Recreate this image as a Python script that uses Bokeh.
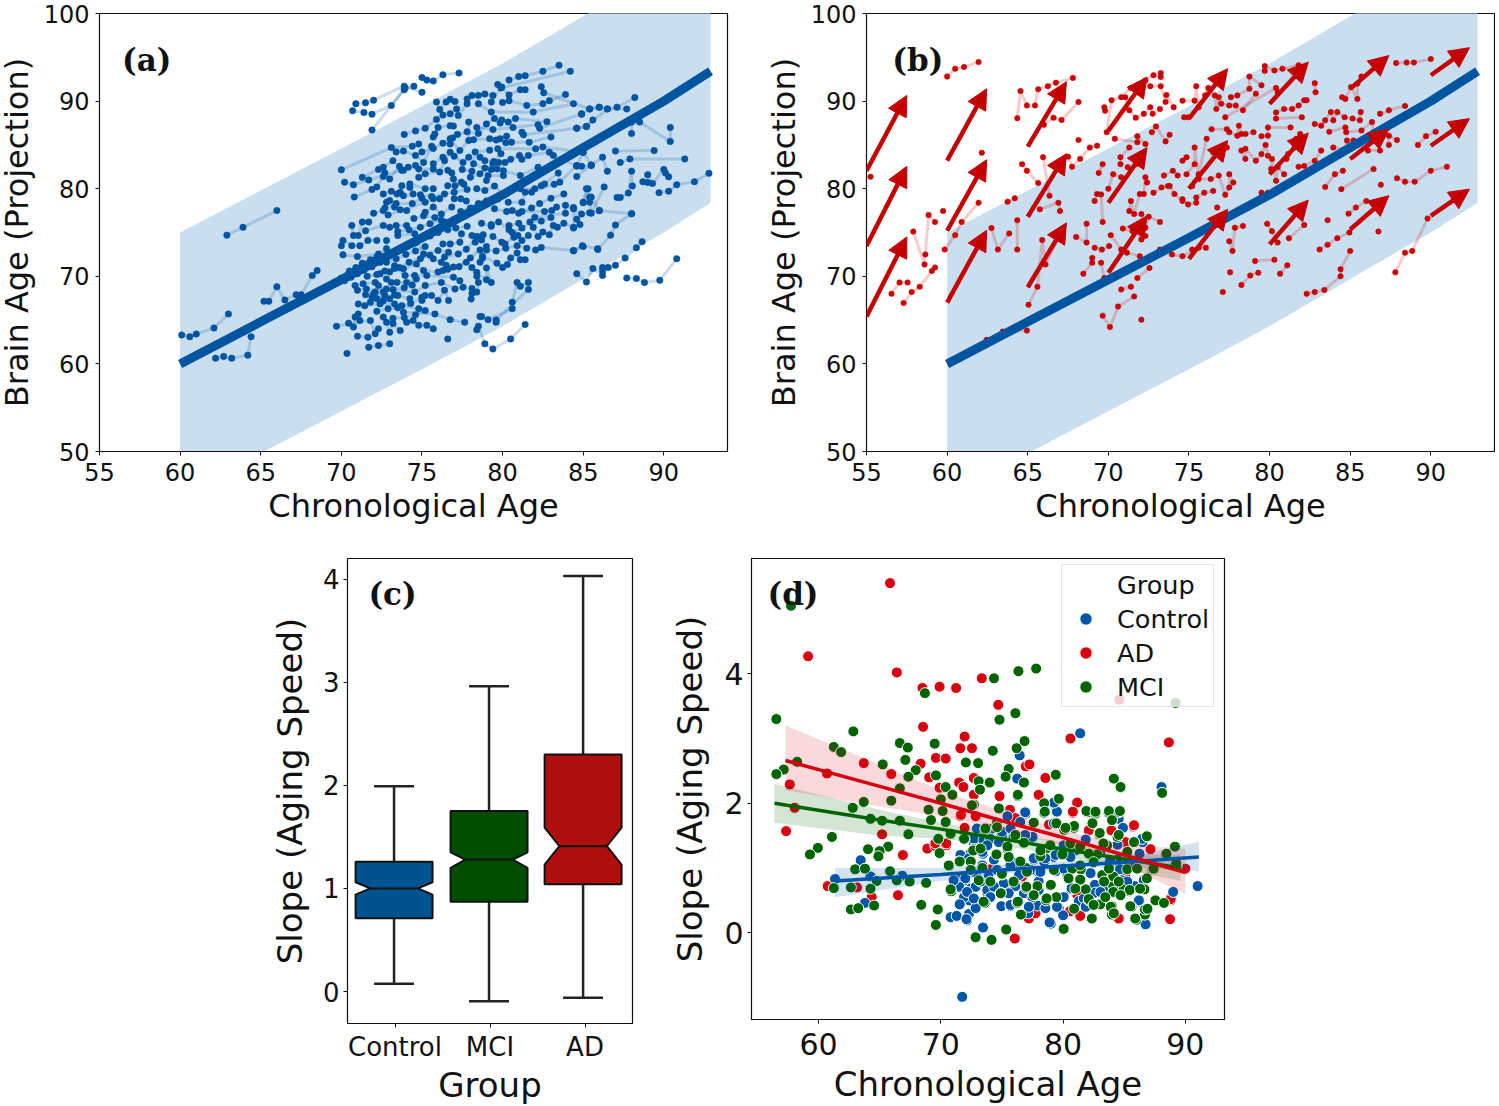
from bokeh.plotting import figure
from bokeh.layouts import column, row
from bokeh.models import Range1d, Label, Arrow, NormalHead, ColumnDataSource, Legend, LegendItem
from bokeh.embed import file_html
from bokeh.resources import INLINE

# ---- data ----
trend_age = [60, 65, 70, 75, 80, 85, 90, 92.9]
trend_brain = [60, 64.8, 69.6, 74.4, 79.3, 84.7, 90, 93.4]
band_half = 15

# panel (a): control trajectories, flat age, brain pairs
a_tracks = [
[60.1,63.3,60.6,63.1,61,63.4,62.1,64.1,63,65.7],
[62.2,60.65,62.7,60.85,63.2,60.65,64.2,61,64.4,63.1],
[62.9,74.7,63.9,75.6,66,77.5],
[65.2,67.15,65.5,67.15,66,68.8,66.5,67.3,67.2,67.9,67.5,67.9,68.2,70.1,68.5,70.65],
[70.7,88.9,71.4,88.7,71.9,88.5,73.1,89.5,73.9,91.3,74.5,91.7],
[70.9,89.7,71.5,89.8,72,90.1,73.9,91.7,75,91],
[71.9,86.7,73.95,91.5],
[75,92.7,75.3,92.4,75.7,92.3,76.3,93,77.3,93.2],
[80.4,92.4,81,92.8,81.4,92.9,82.5,93.4,83.5,94.1],
[79.7,91.9,79.9,91.5,84.2,93.4],
[70,82.15,73.1,84.7,74.4,84.85,74.8,85.1],
[70.2,80.75,70.75,80.45,71.7,81,73.75,82.1],
[70.8,79.05,71.9,79.9,72.2,80.2,72.6,81.4],
[71.3,81.3,72.3,82.2,72.6,82.45,73.2,83.2],
[72.7,81.8,73,81.1,73.6,82.55,73.85,82.1,74.15,82.45],
[73.4,84.2,73.85,84.3,74.6,83.8,75.1,83,75.6,84.85],
[74.6,82.65,74.8,82.25,75.7,82.85,75.7,82.25,76.3,83.6],
[74.8,81.3,75.2,81.7,76.1,81.9,76.4,83.2,76.75,84.15],
[75.7,85.9,75.8,86.25,76,87,76.75,87.2,76.95,87.15],
[75.9,89.9,76.1,89.05,76.5,89.9,76.75,90.2,77.05,89.95],
[76.75,88.55,77.15,89.1,77.25,88.35,77.8,90.25,77.8,89.7],
[76.75,85.7,76.75,85.1,77.35,84.35,77.9,85.5,77.9,87.6],
[77,83.7,77.55,83,77.9,83.6],
[76.6,82.1,76.85,81.8,76.95,81.1,77.45,80.75],
[74.25,80.55,74.25,80.15,73.75,80.35,75.2,80,75.7,80],
[72.6,79.4,73.1,79.7,73.65,79.6,73.45,79.4,73.85,79.2,74.45,79.4],
[72.7,77.8,72.8,78.45,73,78.65,73.3,77.9,73.65,77.6,74.05,77.5],
[72.9,77,75.2,78.45,75.7,78.85,76.1,78.85],
[75.2,77.3,75.7,77.9,76.85,77.9,76.2,77.1],
[76.6,80.35,77.05,80.35,77.6,80.5],
[77,78.85,77.4,78.85,77.75,78.6],
[70.65,75.8,70.75,74.65,71.05,74.65,71.3,76.2,71.7,76.2],
[70.1,74.1,70,73.5,70.65,73.5,71.15,73.5,71.65,74.1,72.2,74.1],
[70.1,72.45,71,72.25,72.3,72.55,72.8,73.15,72.8,74.1],
[71.5,75.2,72.6,75.8,73,75.6,73.4,75.8,74.05,75.8],
[73.5,74.65,74.55,74.85,75.1,72.55,76,72.95,76.65,72.75],
[76.3,73.7,76.75,73.7,77.35,73.9,77.45,74.85],
[76.4,72.2,77.25,72.55,77.75,73.1,78.5,74.5],
[75.7,72,76.2,71.6,76.5,71.25,76.95,71.05,77.75,71.6],
[73.85,70.85,74.65,71.4,75.1,70.65,76,70.5,76.3,70.65],
[73.3,71.2,73.95,70.1,74.55,70.1,75.3,70.1,76.95,69.9,77.35,69.5],
[72.4,70.3,72.8,69.7,73.1,69.3,73.45,69.3,74.05,69.3,74.65,69.7],
[70.85,68.95,71.35,69.15,72.1,69.3,72.3,68.95,72.8,68.55],
[71,68.4,71.55,68.55,74.55,68.2,75.2,68.95,76.2,69.3,77.05,68.55,77.55,68.75],
[75.6,67.8,75.2,67.8,75,67.25,76.4,68.4,76,67.25,76.65,67.25],
[74.25,67.45,73.5,67.8,73,67.45,72.7,67.8,72.2,67.45,71.9,67.6,71.8,67.05],
[71.05,66.85,71.45,66.65,72.4,66.85,73.3,66.85,73.75,66.65,74.8,66.3],
[73.85,65.9,75.8,65.7,76.75,65.05,77.65,64.75],
[71.05,65.7,70.85,65.35,71.15,64.95,70.45,64.65,70.75,64.2],
[69.7,64.3,71.8,64.95,72.3,64,72.1,63.45],
[72.6,65.35,72.8,64.75,73.2,64.6,73.65,63.8,73,63.6],
[74.05,64.75,74.45,64.95,74.8,64.4,75.3,64.4,75.7,64],
[71,63.15,71.65,63.05],[71.7,61.9,72.3,62.1,73,62.3],[70.35,61.2],[76.6,62.85],
[78.1,90.65,78.5,90.65,78.9,90.8,79.4,90.65],
[79.3,89.9,79.95,91.6,80.4,90.7,81.1,91.3,81.4,91.3],
[80,89.85,80.4,90.05,81.5,89.5,82.5,89.7,82.9,90.05,83.9,90.75],
[78.5,89.7,79.3,88.75,81.9,88.75,84.4,89.7],
[82.4,91.65,82.55,90.95,85.4,89.1,86,89.3],
[79.85,87.5,79.95,87.85,80.35,87.6,80.8,88,82.75,87.65],
[78.4,87,79.4,86.75,80.65,87,82.2,87.3,82.3,86.9,84.9,88.55],
[81.2,86.45,81.3,86.15,84.6,86.9,85.2,87.1,85.6,87.85],
[78.2,85.6,79.2,85.7,79.6,85.55,79.85,85.7,80.25,86],
[80.2,85.25,80.55,85.3,81.65,85.3,83,85.9],
[79.7,84.55,82.05,84.55,82.5,84.75,85,84.15],
[78.6,83.6,78.9,83.2,79.45,83.1,79.75,83,80.15,83],
[78.2,82.85,78.9,82.35,79.3,82.2,79.65,82.25,80.5,83.35,81.05,83.8],
[81.2,83.35,81.6,83.8,82.9,84.15,83.15,83.8,84.6,82.6],
[80.05,82.05,80.05,81.5,79.1,81.5,79,80.95,81.1,81.5,82.2,82.45],
[82.6,80.55,83.45,81.8,83.55,80.75,84.6,82.65,84.9,82.55,85.5,82.65],
[84.6,81.4,85.5,82.7,86.2,83.6,86.5,82],
[79.5,80.3,78.4,80,78.9,79.8,80.05,79.4,81.1,80,82,80,82.4,80.35],
[80.35,78.45,81.2,78.45,81.4,79.6,81.8,79.6,83.2,80.5],
[85.2,80,85.5,79.05,85,78.45,85.4,78.45,86,77.5,88,77.15],
[79.5,77.7,80.25,77.4,80.6,77.5,81.2,77.4,82.6,77.4,83.05,77.5,83.35,77.9],
[82,76.75,83.9,78.1,84.4,77.7,83.9,77.2,84.9,77.1,85.4,77.25,86,77.5],
[78.7,76.05,79.3,75.9,79.3,75.7,79.75,76.2,80.4,75.8,80.4,75.3,81,76.05],
[78.1,74.65,78.4,74.55,78.8,74.75,78.7,74.15,78.3,73.9],
[79.4,74.55,79.95,73.9,80.15,73.7,80.7,74.45,80.95,74.65,81.2,74.1,81.6,74.65],
[81.9,75.6,82.2,74.55,82.5,75.05,82.9,74.75,83.15,75.8,83.4,75.6,83.8,76.05,84.4,75.6,84.8,75.9],
[82.05,73,82.4,73.3,84.4,72.95,84.95,73.5,85.9,73.15],
[80.5,72.1,80.9,72.65,81.1,71.9,81.4,71.9],
[78.75,72.3,78.75,72.05,78.6,71.6,79.65,71.5,80,71,80.3,71.35],
[78.1,71,78.4,70.45,78.4,70,79,70.95,79,69.6,79.3,69.3],
[78.5,69.3,78.1,68.6,78.1,68.05,78.4,68.2,78.05,67.4],
[78.6,65.4,78.7,65.4,79.1,65.05,80.6,66.3,80.6,67.05,80.9,69.3,81.1,68.85,81.6,69.3],
[79.6,65,79.6,64.75,81.6,68.5],
[78.5,64.3,78.4,63.9,78.9,62.3,79.4,61.7,80.5,62.85,81.4,64.5],
[84.6,86.9,85.2,87.1,86.5,89.1,87.1,89.3,88.2,90.4],
[84.9,88.5,85.4,89.1,86,89.3,86.5,89.1,87.7,89.1],
[88,87.6,88.5,87.6,88,86.3,90.4,87,90.4,85.4],
[87,84.3,89.4,84.35],[87.9,83.4,87.3,83,91.3,83.4],
[90,82.2,90.1,81.8,90.3,81.35,89,81.6,88.7,80.8,89,80.7,89.3,80.6],
[89.7,79.55,90.3,79.7,90.8,80.45,91.9,80.8,92.8,81.75],
[88,82,88.05,80.3,87.8,79.5,87.1,79,87.3,79],
[85.3,80,85.4,79,85,78.4,85.5,77.2,86.3,80.2],
[85.9,73.05,86.7,74.7,87,75.85,88,77.15],[84.4,72.9,85,73.4],
[84.6,70.3,85.2,69.35,85.6,70.9,86.2,71,86.2,70.6,86.2,70.1],
[86.55,71,87,71.25,87.6,72.1,88.3,73.25,88.65,73.95],
[87.7,69.8,88.3,69.75,88.8,69.3,89.75,69.55,90.8,72],
[84.4,75.5,84.6,76.5,84.4,77.85],
[84.6,82.6,85,84.15,85.5,82.7],
[70,69.8,70.4,70.2,70.8,70.6,71.2,71,71.6,71.4,72,71.8],
[70.2,69.5,70.6,69.9,71,70.3,71.4,70.7,71.9,71.1,72.4,71.6],
[70.5,70.6,70.9,71,71.3,71.5,71.8,71.9,72.2,72.2],
[72.5,72,73,72.4,73.5,72.9,74,73.4,74.6,73.8],
[72.8,71.6,73.4,72,74,72.5,74.6,72.9,75.2,73.4],
[73,70.5,73.6,71,74.2,71.6,74.9,72,75.5,72.4],
[71.6,70,72.2,70.2,72.7,70.6,73.3,70.9],
[72,68,72.6,68.2,73.2,68.5,73.9,68.7,74.4,69],
[72.2,66,72.9,66.3,73.5,66.4,74.3,66.9,75,67.6],
[73.2,65.2,73.9,65.3,74.6,65.6,75.2,66.1],
[71.5,67.9,72.1,68.2,72.6,67.2,73.3,67.9],
[73.5,75.1,74.2,75.3,74.9,75.6,75.5,76,76.2,76.4],
[72,77.2,72.6,77.5,73.4,78.3,74.4,78.3,75,78.9],
[74.5,76.6,75.1,76.9,75.8,76.7,76.4,76.2,77,76.5,77.7,76.9],
[75.5,74.6,76,75,76.6,75.3,77.1,75.5,77.8,75.7],
[77.4,77.4,78,77.8,78.5,78.3,79,78.6,79.7,78.8],
[74.9,79.3,75.6,79.1,76.4,79.4,77,79.6,77.8,79.9],
[78,81.3,78.6,81.7,79.4,82.9,79.9,84],
[77.5,82.2,78.1,82,78.3,84.2,79.2,84.4],
[73.9,86.2,74.6,86.6,75.2,86.9,75.9,87.9,76.3,88.4],
[75,84.2,75.7,84.6,76.3,85.2,76.9,85.8],
[77.2,86.2,77.8,86.5,78.5,86.3,79,87.4,79.5,88],
[81,77.2,81.8,77.8,82.3,78.3,83,78.9,83.8,79.4],
[79,73,79.6,72.9,80.2,73.2,80.9,73.5,81.5,73.2],
[80.6,75,81.2,75.5,81.7,76.2,82.4,76.3,83,76.7],
[76.6,70.8,77.3,71.1,78,72.1,78.6,73,79,73.4],
]

# panel (b): AD trajectories, flat age, brain pairs
b_tracks = [
[55.25,81.35],[60,92.8,60.5,93.7,61.05,93.9,61.95,94.45],
[56.55,68,57.05,69.3,57.55,69.3],
[57.3,66.95,57.8,68.2,58.3,68.8,59.05,70.6,59.25,71],
[58.6,71.35,58.65,72.5,59.25,76.2,58.85,77,57.9,75.1],
[59.75,77.45],[59.85,73.05,60.5,74.7,60.9,76.2,61.95,78.4],[62.15,84.1],
[62.75,75.5,63.15,73.05,63.85,74.9],[63.75,78.5,64.2,78.9],[64.35,76.4,64.35,73.05],
[62.45,62.75,62.95,62.95,63.45,63.7,64.95,63.8],
[64.55,91.15,64.95,89.5,64.35,88.05],[65.45,89.5,65.65,91.35,66.25,91.7,66.75,92.1,67.8,92.65],
[66,87.3,66.6,88.1,67.1,87.85,68.15,89.9],
[64.65,82.8,64.95,82.05,65.65,80.65],[65.95,83.6,66.35,79.2],[66.9,78.4,67,77.45,65.75,77.65],
[65.05,66.75,65.6,68.8,66.1,71.35,65.9,74.15,67.15,75.35],
[67.5,83.65,67.75,82.5,68.25,83.4,68.85,84.7,69.3,84.9],[68.15,85.55],
[68,74.5,68.65,76,68.65,73.85],[68.45,70.3,69,72.1,69,71.55],
[69.15,73.25,69.6,73.05,70.05,73.45],[69.55,71.55,69.75,69.8],
[69.65,65.5,70.1,64.2,70.6,66.55,71.6,67.7],[71.4,68.8,70.8,68.5],[72.05,65.05],
[69.15,78.6,69.3,79.4,69.55,79.35,69.65,76.2],
[69.4,81.8,69.65,82.8],[69.75,89.3,69.8,88.9],[69.9,86.45,70.2,90.1,70.8,90.45,71.4,91.5,71.8,91.4],
[70.4,85.7,71.8,86,71.8,85.3,72.3,85.1],[72.3,92.35,72.8,92.95,73.25,93.2,73.25,92.75],
[72.6,91.7,73.25,91.7,73.6,90.7,73.55,89.9,74.05,89.3],
[73.2,89.1,72.6,89.3,72.75,88.55,72.2,88.55,71.7,88.1,71.3,88.95,71.05,90.45],
[72.95,87.1,72.7,86.45,73.8,86.15,73.55,85.4],
[71.3,84.7,70.75,83.6,70.75,82.8],[71.95,83.6,71.7,82.8,71.2,82.45],
[70.3,81.65,70,80,70.8,81.3],[72.3,81.3,72.4,80.7,72.2,79.4],
[72.8,79.55,73.3,80.15,73.7,80.3],[73.45,81.5,74,82.05,74.3,81.5],
[73.8,80.3,74.1,79.4,74.6,78.6],[71.95,79.4,71.4,78.6,71.3,77.45,71.6,77.1],
[72.05,77.1,72.5,76.8,73.2,76.2,72.3,75.55],
[70.9,75.45,71.5,75.15,71.8,75.15,72.3,74.6,72.05,74.2],
[70.15,74.7,70.8,73.05,71.15,72.7,71.95,72.3],
[72.55,70.95,71.8,69.8],[73.95,72.5,73.2,73.05,74.6,72.3,75.6,73.25,76.05,73.25],[75.2,73.05],
[74.7,88.15,74.95,88.15],[74.6,90.05,75.35,90.05,75.6,89.3,75.45,91.7],
[76,90.65,76.2,91.5,76.6,90.65,76.85,90.45,77,89.7,77.5,89.5,76.7,89.1,77.9,89.5],
[77.6,90.45,78,90.65,78.75,91.4,78.75,92.8,79.5,91.8],
[79.7,94,79.7,93.45,80.3,93.5,80.8,93.7,81.8,94.1],[82.8,92.05,82.85,91],
[79.15,90.85,78.35,88.95],[77.25,88.15,80.4,91.5,80.5,91],
[82.15,90.1,82.3,90.1,81.8,89.5,81.4,89.1,80.9,89.1,80.4,88.7],[82,88.15,80.4,88],
[76.4,86.8,77.35,86.8,78.1,87.2,78.25,86.25,77.5,86.45,78,86.05,78.5,86.25,79,86.45],
[79.5,86,79.9,87,79.9,86.05,81.3,87],
[79.75,85,79.9,83.75,79.5,83.95,79.15,83.2,78.5,83.4,78.25,84.35,78.5,84.55],
[80.15,83.4,80.1,82.25,80.5,82.45,80.9,81.65,80.4,80.9],
[81.9,86.25,81.65,85.7,81.55,84.7,81.15,83.95,81.05,83.4],
[82.8,87.4,83.2,87.2,83.45,87.8,83.8,88.75,84.2,88.75,83.95,87.8,84.65,88.15,85.15,88,85.65,88.75,85.6,87.8],
[84.5,90.45,84.7,90.25,85.45,90.25,85.05,91.6,85.45,92,85.7,92.8],
[86.85,88.55,87.4,88.95,88.4,89.45],[87.85,94.35,88.5,94.4,88.95,94.4,90,94.8],
[83.7,86.5,84.7,87,84.75,86.45,85.7,86.65,86.45,86.45,86.35,87.6],
[84.8,85.5,85.2,85.5,83.95,84.7,84.7,84.55,85.05,84.55,86.1,84.35,86.85,84.35],
[83.2,84.35,82.8,83.2,82.15,82.6,81.8,82.5],[83.45,80.2,84.05,81.65,84.55,82.05],[84.45,79.95,86.45,82.25],[86.9,80.45],
[87.4,86.05,87.4,85,87.9,85.55],[89.2,85,89.7,86,90.3,86.5],[91,82.5,90,82.05,89,80.8,88.4,80.8,87.9,81.2],
[77.85,75.55,78.35,75.75,77.5,74,77.7,72.9],[79.1,71.75,80.3,71.9],[79.85,76,80.15,75.15,80.5,73.85],[82.15,75.85,81.2,74.35],
[77.55,70.45],[77.1,68.2],[78.25,69,78.8,70.1,79.3,70.4],[80.65,70.3,81.1,71.25],
[82.3,68,82.8,68.2,83.4,68.45,84.4,70,84.4,70.8,85,72.9],
[83.1,73.05,83.6,73.6,84.2,74.35,84.95,75],[83.6,76.4],[84.9,77.15,85.35,77.85,86,78.6],[86.75,75.1],
[87.8,70.45,88.4,72.7,88.85,72.9,89.8,76.6],[79.9,79.55,79.5,79.55],
[74.6,78.8,74.95,78.2,75.45,79,75.45,78.4,75.95,79.55,76.5,79.75],[76.75,77.85],
[77.25,79.3,77.5,80.15,77.75,80.7,77.5,81.65,76.85,81.5,76.35,81.1,75.6,81.1,75.2,80.3],
[75.6,81.65,74.85,81.65,75.35,82.8,75.35,84.7,76.1,85.7],[76.5,84.15,76.85,84.35,77.35,84.7],
[74.6,83.2,74.85,83.6],
]

arrow_x0 = [55,55,55,60,60,60,65,65,65,70,70,70,75,75,75,80,80,80,85,85,85,90,90,90]
arrow_y0 = [82.05,73.45,65.4,83.2,75.2,67,84.8,76.8,68.75,86.6,78.4,70.4,88,80,72,89.7,81.65,73.65,91.4,83.4,75.35,92.95,84.9,76.9]
arrow_x1 = [57.5,57.5,57.5,62.45,62.45,62.45,67.4,67.4,67.4,72.4,72.4,72.4,77.4,77.4,77.4,82.4,82.4,82.4,87.4,87.4,87.4,92.4,92.4,92.4]
arrow_y1 = [90.65,82.55,74.5,91.4,83.3,75.25,92.2,84,76.1,92.75,84.7,76.9,93.7,85.5,77.65,94.45,86.35,78.7,95.2,86.8,79.2,96.1,88,79.95]

# panel (c): box statistics
box_groups = ["Control", "MCI", "AD"]
box_q1 = [0.71, 0.87, 1.04]
box_notch_lo = [0.94, 1.2, 1.23]
box_median = [1.0, 1.28, 1.41]
box_notch_hi = [1.06, 1.35, 1.59]
box_q3 = [1.26, 1.75, 2.3]
box_whisk_lo = [0.075, -0.095, -0.06]
box_whisk_hi = [1.99, 2.96, 4.03]

# panel (d): age, slope
d_ad = [(65.85,5.4),(59.15,4.27),(66.4,4.02),(68.5,3.78),(69.9,3.8),(71.25,3.78),(73.35,3.93),(74.7,3.52),(68.55,3.18),(80.6,3),(88.65,2.94),(71.95,3.03),(71.6,2.85),(72.55,2.85),(69.6,2.7),(70.4,2.69),(68.35,2.61),(63.7,2.62),(65.95,2.45),(69.05,2.4),(60.7,2.46),(57.65,2.29),(58.05,1.93),(57.35,1.57),(65.2,1.52),(66.9,1.2),(68.9,1.3),(69.55,1.34),(70.45,1.35),(60.75,0.72),(63.15,0.7),(64.35,0.55),(66.5,0.58),(76.65,0.85),(74,0.98),(76.05,-0.09),(80.55,0.33),(81.4,0.26),(84.55,0.22),(88.75,0.21),(88.8,0.5),(90,0.99),(76.95,2.57),(77.25,2.6),(71.5,2.32),(71.85,2.25),(72.7,2.39),(69.9,2.24),(74.8,2.11),(71.6,1.8),(72.85,1.8),(75.65,1.9),(76.1,1.77),(78.55,2.39),(78,2.13),(81.15,2),(80.8,1.85),(78.85,1.67),(82.1,1.58),(83.95,1.58),(85.75,1.64),(85.1,1.4),(87.15,1.29),(84.6,3.6),(80.75,1.31),(81.15,0.59),(71.95,1.59),(77.15,0.23),(71.65,1.82),(72.7,2.13),(71.95,1.62),(70.45,1.38),(69.55,1.38),(76.65,0.87),(77.2,0.22),(77.75,0.3),(81.15,2.01),(80.8,1.87),(85.8,1.66),(88.8,0.52),(85.1,0.86),(85,0.67)]
d_control = [(71.75,-0.99),(81.4,3.08),(76.45,2.74),(76.25,2.38),(88.05,2.25),(79.25,1.99),(79.5,1.87),(76.95,1.84),(84.55,1.76),(84.9,1.62),(73,1.59),(73.65,1.62),(75.45,1.8),(81.85,1.44),(77.55,1.47),(72.7,1.39),(73.55,1.39),(75,1.49),(84.45,1.36),(86.25,1.22),(86.5,1.4),(63.45,1.12),(61.35,0.83),(64.25,0.87),(66.85,0.88),(63.8,0.46),(73.45,1.22),(74.35,1.13),(72.45,1.23),(71.6,1.16),(77.6,1.13),(79.25,1.17),(78.45,1.1),(76,1.08),(76.6,1.09),(77.9,0.95),(79.4,0.95),(82.25,0.92),(80.35,0.9),(71.35,0.8),(72,0.81),(73,0.95),(72.45,0.68),(73.8,0.62),(75.25,0.75),(76.1,0.72),(71.5,0.43),(72.45,0.49),(72.85,0.38),(72.3,0.29),(70.8,0.24),(71.3,0.26),(72.15,0.19),(73.45,0.08),(74.95,0.41),(75.7,0.41),(77.15,0.3),(77.6,0.46),(77.9,0.42),(78.6,0.38),(79.65,0.38),(80,0.27),(79,0.14),(81.3,0.49),(80.65,0.67),(82.6,0.74),(82.65,0.62),(83.6,0.67),(84.85,0.8),(85.95,0.7),(86.6,0.8),(86.25,0.48),(86.75,0.13),(89,0.63),(91,0.72),(84.45,1.13),(76.9,1.86),(72.95,1.61),(74.2,1.61),(76.5,1.71),(77.5,1.48),(79.25,2.01),(79.25,1.69),(73.4,1.25),(72.7,1.45),(73.5,1.43),(77.6,1.15),(78.55,1.15),(79.4,1.2),(71.5,0.84),(72,0.84),(71.5,0.71),(72.85,0.71),(73.8,0.66),(75.15,0.76),(78,0.79),(78,0.66),(72.35,0.5),(71.9,0.55),(71.55,0.44),(72.85,0.38),(72.1,0.21),(78.9,0.16),(78.55,0.38),(79.5,0.4),(71.6,1.2),(80.05,1.35),(86.45,1.45),(84.65,0.98),(84.8,0.81),(80.7,0.69),(83.45,0.68),(85.85,0.72),(86.6,0.81),(86.2,0.5),(81.7,0.53),
(74.05,1.45),(75,1.56),(75.7,1.61),(73.8,1.35),(74.75,1.4),(75.95,1.48),(76.9,1.51),(73.4,1.04),(72.7,0.94),(73.9,0.89),(74.6,0.97),(75.7,1.04),(76.4,0.89),(77.35,0.97),(78.15,0.94),(72.15,0.63),(73.25,0.79),(74.35,0.71),(75.55,0.61),(76.8,0.61),(77.5,0.55),(72.7,0.53),(74.05,0.55),(75.7,0.43),(77.2,0.4),(72.3,1.15),(71.05,0.81),(81,1.27),(83.05,1.25),(80.6,1.17),(83.85,1.12),(80.05,0.99),(81.4,0.99),(85.5,1.09),(81.85,0.4),(80.05,0.55),(83.05,0.63),(85.25,0.79),(87.3,0.97)]
d_mci = [(57.75,5.05),(56.55,3.3),(62.85,3.11),(61.25,2.87),(61.85,2.79),(66.65,2.93),(67.3,2.86),(69.5,2.92),(67.1,2.67),(65.25,2.6),(67.95,2.51),(67.35,2.41),(58.25,2.64),(57.15,2.52),(56.55,2.45),(68.7,3.7),(74.35,3.93),(76.35,4.04),(77.8,4.08),(76.1,3.39),(74.8,3.29),(76.85,2.96),(76.2,2.85),(74.25,2.81),(72.05,2.63),(73.05,2.62),(75.55,2.53),(79.4,2.44),(75.3,2.41),(73.1,2.34),(74,2.32),(76.8,2.32),(70.4,2.25),(69.6,2.43),(66.65,2.23),(70.95,2.13),(65.95,2.04),(63.7,2.02),(62.8,1.93),(70,2.06),(69,1.9),(70.15,1.88),(72.7,1.98),(73.2,2.21),(76.3,2.11),(74.8,1.91),(79.65,2.07),(78.45,2),(78.45,1.85),(61.1,1.48),(59.95,1.31),(59.3,1.21),(64.05,1.29),(65.7,1.33),(65,1.26),(64.9,1.18),(67.35,1.52),(66.65,1.73),(65.2,1.73),(64.25,1.76),(63,0.98),(63.8,0.99),(65.85,0.95),(66.4,0.81),(67.45,0.79),(68.8,0.77),(64.75,0.8),(62.65,0.7),(61.25,0.69),(64.25,0.68),(62.65,0.36),(63.25,0.38),(64.55,0.42),(68.4,0.43),(69.75,0.36),(69.6,0.12),(72.85,-0.07),(74.15,-0.11),(75.35,0.05),(80,0.05),(70.7,1.03),(69.9,1.23),(69.8,1.45),(69.2,1.74),(70.4,1.71),(70.8,1.52),(71.95,1.45),(70.85,0.64),(73.6,0.46),(74.9,0.62),(76.25,0.46),(76.55,0.28),(76.95,0.69),(77.9,0.72),(78.95,0.73),(78.6,0.5),(79.45,0.55),(82.35,0.22),(83.05,0.44),(82.1,0.5),(84,0.28),(84,0.41),(81.85,0.67),(83.2,0.89),(84,0.85),(81.45,0.82),(81.45,0.98),(82.8,1.21),(83.6,1.34),(84.45,1.48),(82.95,1.52),(82,1.86),(82.65,1.84),(83.7,1.86),(84.55,1.86),(84.15,2.38),(84.7,2.24),(88.1,2.16),(89.15,1.33),(88.4,1.21),(89.3,1.04),(87.45,0.98),(86,0.2),(86.7,0.28),(86.7,0.36),(87.55,0.5),(88.25,0.46),(85.6,0.4),(86.65,0.67),(85.4,0.64),(84.85,0.67),(84.1,0.72),(85.25,0.98),(86.85,1.49),(85.8,1.4),(89.2,3.55),(80.9,1.62),(80.1,1.59),(79.45,1.69),(77.6,1.7),(76.8,1.39),(75.45,1.3),(74.55,1.21),(72.7,1.29),(72.45,1.1),(71.5,1.1),(73.4,1),(75,0.9),(76.95,1),(78.15,1.18),(78.7,1.31),(79.95,1.21),(73.65,1.59),(74.6,1.7),(70.8,0.67),(70.65,1.04),(71.55,1.1),(72.55,1.97),(74.75,1.92),(76.3,2.13),(78.5,1.87),(75.45,1.33),(76.5,1.1),(72.65,1.27),(73.5,0.48),(74.9,0.61),(76.3,0.48),(77,0.71),(78.65,0.53),(79,0.74),(81.9,1.88),(82.65,1.87),(83.75,1.88),(84.65,1.88),(84,1.74),(80.9,1.65),(80.2,1.62),(83,1.54),(84.55,1.51),(85.8,1.4),(83.6,1.35),(88.45,1.22),(89.25,1.07),(87.4,0.99),(84.1,0.87),(81.4,0.82),(80.75,0.99),(84.1,0.63),(85.45,0.66),(82.1,0.52),(83.9,0.4),(84.15,0.3),(85.5,0.41),(86.9,0.37),(85.9,0.22),(80.05,0.06),(84.7,2.25),
(71.9,1.45),(70.8,1.53),(73.25,1.3),(73.65,1.61),(74.6,1.63),(76.1,1.51),(75.55,1.17),(75,0.91),(74.05,0.79),(73.1,0.81),(72.45,0.97),(75.95,0.79),(77.05,0.94),(78.15,1.27),(78.95,1.35),(79.25,0.97),(77.6,0.58),(80.6,1.38),(81.4,1.33),(82.1,1.22),(82.5,1.09),(81.4,1.04),(80.45,0.84),(81,0.68),(83.35,0.79),(84.55,0.79),(83.75,0.99),(86.05,0.99),(86.85,0.84),(86.3,0.68),(82.5,0.43),(83.45,0.55),(84.7,0.58),(80.9,0.37),(82.4,1.69),(83.3,1.38),(85.25,1.25)]

ad_fit_age = [57.3, 65, 70, 75, 80, 85, 90]
ad_fit = [2.66, 2.26, 2.0, 1.73, 1.47, 1.2, 0.93]
ad_hi = [3.2, 2.6, 2.2, 1.88, 1.58, 1.35, 1.3]
ad_lo = [2.2, 1.95, 1.8, 1.58, 1.35, 1.05, 0.6]
mci_fit_age = [56.4, 65, 70, 75, 80, 85, 89.6]
mci_fit = [2.0, 1.74, 1.6, 1.45, 1.29, 1.14, 1.0]
mci_hi = [2.3, 1.9, 1.7, 1.55, 1.4, 1.22, 1.2]
mci_lo = [1.7, 1.5, 1.45, 1.35, 1.18, 0.98, 0.8]
ctl_fit_age = [61.35, 70, 75, 80, 85, 91.1]
ctl_fit = [0.8, 0.9, 0.97, 1.03, 1.09, 1.17]
ctl_hi = [1.0, 1.0, 1.06, 1.1, 1.15, 1.4]
ctl_lo = [0.55, 0.8, 0.9, 0.98, 1.02, 0.95]

# ---- style ----
BLUE = "#0054a0"; BAND = "#c9dff0"; RED = "#cc0000"; GREEN = "#006400"
FONT = "DejaVu Sans"

def style(p, tick_px, label_px, tick_standoff, label_standoff, xticks, yticks):
    p.xgrid.visible = False; p.ygrid.visible = False
    p.outline_line_color = "#111111"; p.outline_line_width = 1.2
    for ax in (p.xaxis[0], p.yaxis[0]):
        ax.axis_line_color = "#111111"
        ax.major_tick_line_color = "#111111"
        ax.major_tick_in = 0; ax.major_tick_out = 4
        ax.minor_tick_line_color = None
        ax.major_label_text_font = FONT
        ax.major_label_text_font_size = f"{tick_px}px"
        ax.major_label_text_color = "#111111"
        ax.axis_label_text_font = FONT
        ax.axis_label_text_font_size = f"{label_px}px"
        ax.axis_label_text_font_style = "normal"
        ax.axis_label_text_color = "#111111"
    p.xaxis[0].ticker = xticks; p.yaxis[0].ticker = yticks
    p.xaxis[0].major_label_standoff = tick_standoff[0]
    p.yaxis[0].major_label_standoff = tick_standoff[1]
    p.xaxis[0].axis_label_standoff = label_standoff[0]
    p.yaxis[0].axis_label_standoff = label_standoff[1]

def tag(p, x, y, text):
    p.add_layout(Label(x=x, y=y, text=text, text_font="DejaVu Serif", text_font_style="bold",
                       text_font_size="31px", text_color="#111111", text_baseline="alphabetic"))

def age_panel(left, right, tracks, color, size, **extra):
    p = figure(output_backend="svg", toolbar_location=None,
               x_range=Range1d(55, 93.95), y_range=Range1d(50, 100),
               frame_width=628, frame_height=438,
               min_border_left=left, min_border_right=right, min_border_top=13, min_border_bottom=79,
               x_axis_label="Chronological Age", y_axis_label="Brain Age (Projection)", **extra)
    style(p, 24, 32, (7, 6), (3, 5), list(range(55, 95, 5)), list(range(50, 110, 10)))
    p.varea(trend_age, [t - band_half for t in trend_brain], [t + band_half for t in trend_brain],
            fill_color=BAND)
    ordered = [sorted(zip(t[0::2], t[1::2])) for t in tracks]
    p.multi_line([[q[0] for q in t] for t in ordered], [[q[1] for q in t] for t in ordered],
                 line_color=color, line_alpha=0.2, line_width=3)
    p.scatter([v for t in tracks for v in t[0::2]], [v for t in tracks for v in t[1::2]],
              size=size, fill_color=color, line_color=color, line_width=0.5)
    return p

pa = age_panel(105, 33, a_tracks, BLUE, 6.5, margin=(0, 0, 0, -6))
pa.line(trend_age, trend_brain, line_color=BLUE, line_width=9)
tag(pa, 56.4, 94.7, "(a)")

pb = age_panel(106, 1, b_tracks, RED, 5.5)
pb.line(trend_age, trend_brain, line_color=BLUE, line_width=9)
ARROW_RED = "#c40000"
pb.add_layout(Arrow(end=NormalHead(size=20, fill_color=ARROW_RED, line_color=ARROW_RED, line_width=1),
                    source=ColumnDataSource(dict(x0=arrow_x0, y0=arrow_y0, x1=arrow_x1, y1=arrow_y1)),
                    x_start="x0", y_start="y0", x_end="x1", y_end="y1",
                    line_color=ARROW_RED, line_width=4.5))
tag(pb, 56.6, 94.7, "(b)")

# panel (c)
pc = figure(output_backend="svg", toolbar_location=None,
            x_range=Range1d(-0.5, 2.5), y_range=Range1d(-0.31, 4.2),
            frame_width=285, frame_height=465,
            min_border_left=347, min_border_right=8, min_border_top=28, min_border_bottom=81,
            x_axis_label="Group", y_axis_label="Slope (Aging Speed)")
style(pc, 26, 34, (4, 4), (0, 10), [0, 1, 2], [0, 1, 2, 3, 4])
pc.xaxis[0].major_label_overrides = {i: g for i, g in enumerate(box_groups)}
box_colors = ["#00538f", "#004d00", "#b00f0f"]
hw = 0.405; nw = 0.25
cx = [-0.01, 0.99, 1.98]
pc.segment(cx, box_whisk_lo, cx, box_q1, line_color="#222222", line_width=2.5)
pc.segment(cx, box_q3, cx, box_whisk_hi, line_color="#222222", line_width=2.5)
for yy in (box_whisk_lo, box_whisk_hi):
    pc.segment([c - 0.21 for c in cx], yy, [c + 0.21 for c in cx], yy, line_color="#222222", line_width=2.5)
xs = []; ys = []
for i, c in enumerate(cx):
    xs.append([c-hw, c+hw, c+hw, c+nw, c+hw, c+hw, c-hw, c-hw, c-nw, c-hw])
    ys.append([box_q1[i], box_q1[i], box_notch_lo[i], box_median[i], box_notch_hi[i], box_q3[i], box_q3[i],
               box_notch_hi[i], box_median[i], box_notch_lo[i]])
pc.patches(xs, ys, fill_color=box_colors, line_color="#111111", line_width=2)
pc.segment([c - nw for c in cx], box_median, [c + nw for c in cx], box_median, line_color="#111111", line_width=2)
tag(pc, -0.28, 3.86, "(c)")

# panel (d)
pd_ = figure(output_backend="svg", toolbar_location=None,
             x_range=Range1d(54.52, 93.2), y_range=Range1d(-1.34, 5.78),
             frame_width=473, frame_height=461,
             min_border_left=111, min_border_right=20, min_border_top=25, min_border_bottom=88,
             x_axis_label="Chronological Age", y_axis_label="Slope (Aging Speed)")
style(pd_, 30, 34, (9, 4), (6, 11), [60, 70, 80, 90], [0, 2, 4])
BLUE_D = "#0056a6"; RED_D = "#d7000f"
r0 = pd_.scatter([], [], size=0, fill_alpha=0, line_alpha=0)
rs = {}
for name, pts, col in (("AD", d_ad, RED_D), ("Control", d_control, BLUE_D), ("MCI", d_mci, GREEN)):
    rs[name] = pd_.scatter([q[0] for q in pts], [q[1] for q in pts], size=11,
                           fill_color=col, line_color="white", line_width=1)
pd_.varea(mci_fit_age, mci_lo, mci_hi, fill_color=GREEN, fill_alpha=0.17)
pd_.varea(ctl_fit_age, ctl_lo, ctl_hi, fill_color=BLUE_D, fill_alpha=0.17)
pd_.varea(ad_fit_age, ad_lo, ad_hi, fill_color=RED_D, fill_alpha=0.15)
pd_.line(mci_fit_age, mci_fit, line_color=GREEN, line_width=3.5)
pd_.line(ctl_fit_age, ctl_fit, line_color=BLUE_D, line_width=3.5)
pd_.line(ad_fit_age, ad_fit, line_color=RED_D, line_width=3.5)
tag(pd_, 55.83, 5.23, "(d)")
legend = Legend(items=[LegendItem(label="Group", renderers=[r0]),
                       LegendItem(label="Control", renderers=[rs["Control"]]),
                       LegendItem(label="AD", renderers=[rs["AD"]]),
                       LegendItem(label="MCI", renderers=[rs["MCI"]])],
                location=(310, 312), orientation="vertical",
                padding=4, margin=0, spacing=3, glyph_width=39, glyph_height=31, label_height=31,
                label_standoff=12, label_text_font=FONT, label_text_font_size="25.5px",
                label_text_color="#111111", background_fill_alpha=0.8,
                border_line_color="#cccccc", border_line_width=1)
pd_.add_layout(legend)

layout = column(row(pa, pb, spacing=0), row(pc, pd_, spacing=0), spacing=0)
open("out.html", "w").write(file_html(layout, INLINE))
